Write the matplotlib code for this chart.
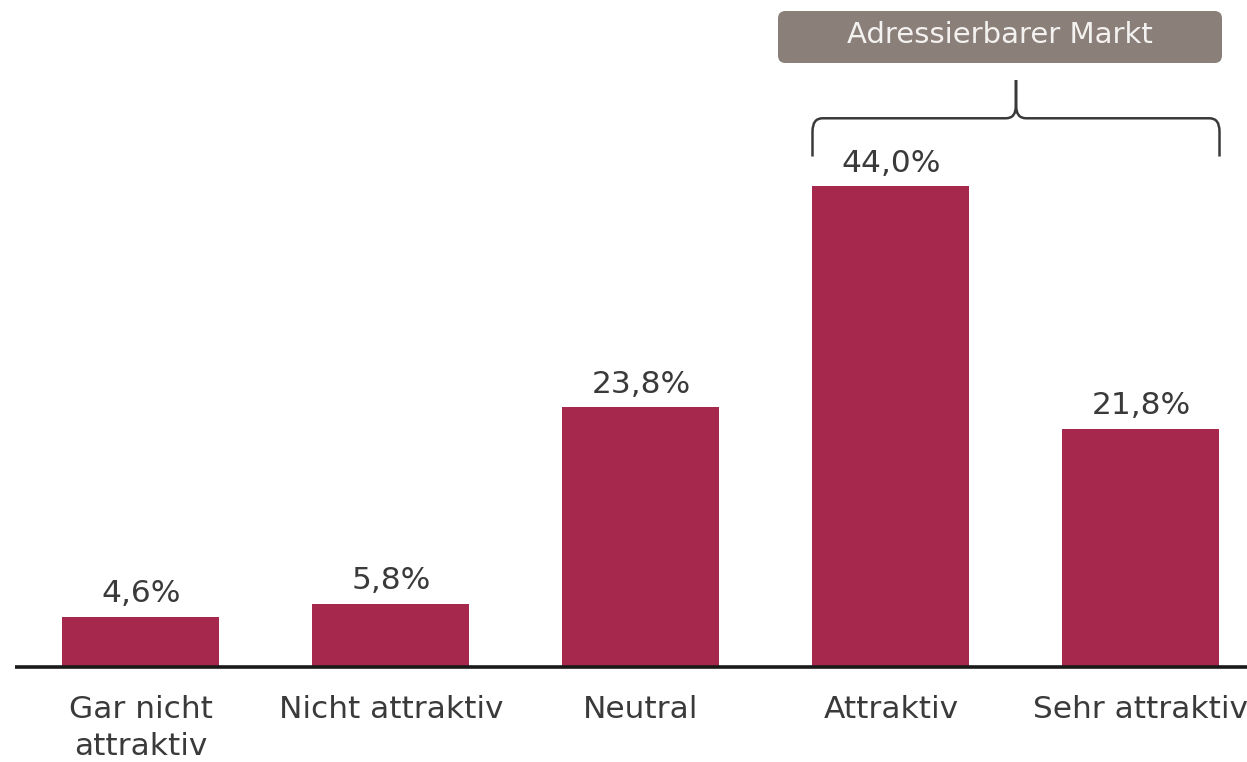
import matplotlib
matplotlib.use("Agg")
import matplotlib.pyplot as plt
from matplotlib.patches import FancyBboxPatch, PathPatch
from matplotlib.path import Path

# Daten
kategorien = ["Gar nicht\nattraktiv", "Nicht attraktiv", "Neutral", "Attraktiv", "Sehr attraktiv"]
anteile = [4.6, 5.8, 23.8, 44.0, 21.8]
werte_labels = ["4,6%", "5,8%", "23,8%", "44,0%", "21,8%"]
markt_label = "Adressierbarer Markt"

bar_farbe = "#a6284c"
text_farbe = "#3a3a3a"
box_farbe = "#8b7f79"

plt.rcParams["font.family"] = ["DejaVu Sans"]

fig = plt.figure(figsize=(12.47, 7.62), dpi=100)
ax = fig.add_axes([0, 0, 1, 1])
ax.set_xlim(-0.564, 4.424)
ax.set_ylim(-8.69, 61.02)
ax.axis("off")

x = list(range(len(anteile)))
breite = 0.628
bars = ax.bar(x, anteile, width=breite, color=bar_farbe, zorder=2)

# Grundlinie
ax.plot([-0.504, 4.5], [0, 0], color="#1a1a1a", lw=2.6, zorder=3, solid_capstyle="butt")

# Werte über den Balken
for xi, v, lab in zip(x, anteile, werte_labels):
    ax.annotate(lab, (xi, v), xytext=(0, 6), textcoords="offset points",
                ha="center", va="bottom", fontsize=22.5, color=text_farbe)

# Kategorien unter der Achse
for xi, kat in zip(x, kategorien):
    ax.text(xi, -2.6, kat, ha="center", va="top", fontsize=22.5, color=text_farbe,
            linespacing=1.35)

# Geschweifte Klammer über "Attraktiv" und "Sehr attraktiv"
xl = x[3] - breite / 2
xr = x[4] + breite / 2
xm = (xl + xr) / 2
y_end = anteile[3] + 2.7
y_h = y_end + 3.5
y_top = y_h + 3.5
dx = 0.04
dy = 1.2
verts = [
    (xl, y_end), (xl, y_h - dy), (xl, y_h), (xl + dx, y_h),
    (xm - dx, y_h), (xm, y_h), (xm, y_h + dy), (xm, y_top),
    (xm, y_h + dy), (xm, y_h), (xm + dx, y_h),
    (xr - dx, y_h), (xr, y_h), (xr, y_h - dy), (xr, y_end),
]
codes = [
    Path.MOVETO, Path.LINETO, Path.CURVE3, Path.CURVE3,
    Path.LINETO, Path.CURVE3, Path.CURVE3, Path.LINETO,
    Path.LINETO, Path.CURVE3, Path.CURVE3,
    Path.LINETO, Path.CURVE3, Path.CURVE3, Path.LINETO,
]
ax.add_patch(PathPatch(Path(verts, codes), facecolor="none", edgecolor="#3a3a3a",
                       lw=1.8, zorder=3))

# Box mit Beschriftung
bx0, bx1 = 778 / 1247, 1222 / 1247
by0, by1 = 1 - 63 / 762, 1 - 11 / 762
box = FancyBboxPatch((bx0, by0), bx1 - bx0, by1 - by0,
                     boxstyle="round,pad=0,rounding_size=0.006",
                     mutation_aspect=1247 / 762,
                     transform=fig.transFigure, facecolor=box_farbe,
                     edgecolor="none")
fig.patches.append(box)
fig.text((bx0 + bx1) / 2, (by0 + by1) / 2 + 0.002, markt_label, ha="center", va="center",
         fontsize=21, color="#f4f2f0")

fig.savefig("out.png", dpi=100)
